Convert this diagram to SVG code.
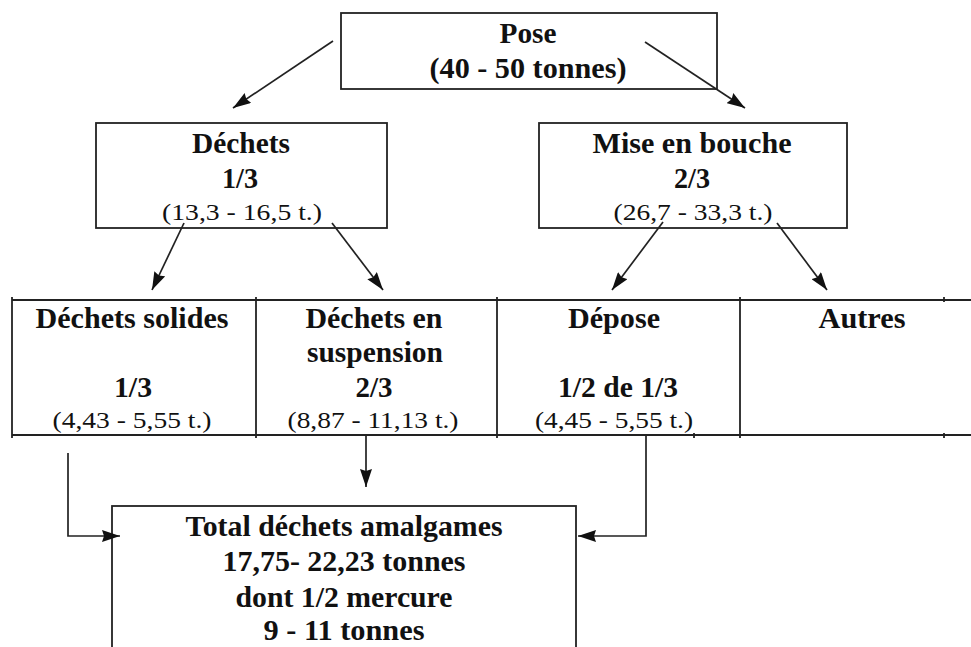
<svg xmlns="http://www.w3.org/2000/svg" width="971" height="647" viewBox="0 0 971 647">
<defs>
<marker id="ah" markerUnits="userSpaceOnUse" markerWidth="19" markerHeight="12" refX="18" refY="6" orient="auto">
<path d="M0,0 L18,6 L0,12 L2,6 Z" fill="#111"/>
</marker>
<style>
.box{fill:#fff;stroke:#222;stroke-width:1.8}
.ln{fill:none;stroke:#222;stroke-width:1.8}
.b{font-family:'Liberation Serif',serif;font-weight:700;font-size:29px;fill:#111;text-anchor:middle}
.r{font-family:'Liberation Serif',serif;font-weight:400;font-size:24px;fill:#111;text-anchor:middle}
.ar{fill:none;stroke:#222;stroke-width:1.7;marker-end:url(#ah)}
</style>
</defs>
<rect width="971" height="647" fill="#fff"/>

<g id="pose">
<rect class="box" x="341" y="13" width="376" height="76"/>
<text class="b" x="528" y="43" textLength="57" lengthAdjust="spacingAndGlyphs">Pose</text>
<text class="b" x="528" y="78" textLength="197" lengthAdjust="spacingAndGlyphs">(40 - 50 tonnes)</text>
</g>

<g id="dechets">
<rect class="box" x="96" y="123" width="291" height="105"/>
<text class="b" x="241" y="153" textLength="98" lengthAdjust="spacingAndGlyphs">Déchets</text>
<text class="b" x="240" y="188" textLength="36" lengthAdjust="spacingAndGlyphs">1/3</text>
<text class="r" x="242" y="220" textLength="160" lengthAdjust="spacingAndGlyphs">(13,3 - 16,5 t.)</text>
</g>

<g id="mise">
<rect class="box" x="539" y="123" width="308" height="105"/>
<text class="b" x="692" y="153" textLength="199" lengthAdjust="spacingAndGlyphs">Mise en bouche</text>
<text class="b" x="692" y="188" textLength="36" lengthAdjust="spacingAndGlyphs">2/3</text>
<text class="r" x="693" y="220" textLength="159" lengthAdjust="spacingAndGlyphs">(26,7 - 33,3 t.)</text>
</g>

<g id="table">
<line class="ln" x1="12" y1="300" x2="971" y2="300"/>
<line class="ln" x1="12" y1="435" x2="971" y2="435"/>
<line class="ln" x1="12" y1="297" x2="12" y2="438"/>
<line class="ln" x1="256" y1="297" x2="256" y2="438"/>
<line class="ln" x1="497" y1="297" x2="497" y2="438"/>
<line class="ln" x1="740" y1="297" x2="740" y2="438"/>
<line class="ln" x1="944" y1="297" x2="944" y2="302"/>
<line class="ln" x1="944" y1="433" x2="944" y2="438"/>
<line class="ln" x1="694" y1="433" x2="694" y2="438"/>
</g>

<g id="solides">
<text class="b" x="132" y="328" textLength="193" lengthAdjust="spacingAndGlyphs">Déchets solides</text>
<text class="b" x="133" y="397" textLength="38" lengthAdjust="spacingAndGlyphs">1/3</text>
<text class="r" x="132" y="428" textLength="159" lengthAdjust="spacingAndGlyphs">(4,43 - 5,55 t.)</text>
</g>

<g id="suspension">
<text class="b" x="374" y="328" textLength="137" lengthAdjust="spacingAndGlyphs">Déchets en</text>
<text class="b" x="375" y="362" textLength="136" lengthAdjust="spacingAndGlyphs">suspension</text>
<text class="b" x="374" y="397" textLength="37" lengthAdjust="spacingAndGlyphs">2/3</text>
<text class="r" x="373" y="428" textLength="171" lengthAdjust="spacingAndGlyphs">(8,87 - 11,13 t.)</text>
</g>

<g id="depose">
<text class="b" x="614" y="328" textLength="92" lengthAdjust="spacingAndGlyphs">Dépose</text>
<text class="b" x="618" y="397" textLength="120" lengthAdjust="spacingAndGlyphs">1/2 de 1/3</text>
<text class="r" x="614" y="428" textLength="158" lengthAdjust="spacingAndGlyphs">(4,45 - 5,55 t.)</text>
</g>

<g id="autres">
<text class="b" x="862" y="328" textLength="87" lengthAdjust="spacingAndGlyphs">Autres</text>
</g>

<g id="total">
<rect class="box" x="112" y="506" width="464" height="160"/>
<text class="b" x="344" y="536" textLength="317" lengthAdjust="spacingAndGlyphs">Total déchets amalgames</text>
<text class="b" x="344" y="571" textLength="243" lengthAdjust="spacingAndGlyphs">17,75- 22,23 tonnes</text>
<text class="b" x="344" y="607" textLength="217" lengthAdjust="spacingAndGlyphs">dont 1/2 mercure</text>
<text class="b" x="344" y="640" textLength="161" lengthAdjust="spacingAndGlyphs">9 - 11 tonnes</text>
</g>

<g id="connectors">
<path class="ar" d="M333,41 L233,108"/>
<path class="ar" d="M645,42 L745,108"/>
<path class="ar" d="M184,223 L152,290"/>
<path class="ar" d="M332,223 L383,290"/>
<path class="ar" d="M663,222 L612,290"/>
<path class="ar" d="M777,223 L827,290"/>
<path class="ar" d="M68,453 L68,536 L120,536"/>
<path class="ar" d="M366,435 L366,487"/>
<path class="ar" d="M646,435 L646,536 L578,536"/>
</g>
</svg>
